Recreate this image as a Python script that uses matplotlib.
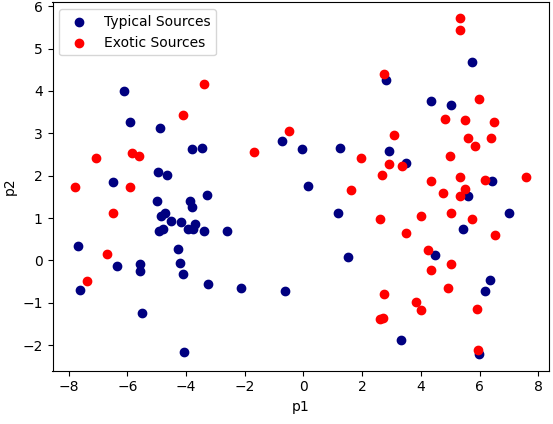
import matplotlib
matplotlib.use("Agg")
import matplotlib.pyplot as plt

typical_p1 = [-6.13, -5.90, -4.88, -3.79, -3.46, -6.48, -4.94, -4.64, -3.27, -0.73,
              -0.05, -4.98, -3.86, -3.79, -4.84, -4.72, -4.50, -4.16, -4.91, -4.79,
              -3.94, -3.68, -3.76, -3.39, -2.59, -7.68, -4.26, -6.35, -5.56, -5.56,
              -4.19, -4.09, -7.63, -3.25, -2.13, -0.62, -5.49, -4.06, 0.17, 5.75,
              2.83, 4.33, 5.04, 1.26, 2.93, 3.51, 6.44, 5.61, 1.17, 6.99,
              5.42, 1.53, 4.49, 6.36, 6.20, 3.31, 5.99]
typical_p2 = [4.00, 3.26, 3.13, 2.62, 2.65, 1.85, 2.08, 2.01, 1.55, 2.81,
              2.62, 1.40, 1.41, 1.26, 1.05, 1.12, 0.93, 0.90, 0.69, 0.74,
              0.74, 0.85, 0.75, 0.69, 0.69, 0.34, 0.27, -0.13, -0.08, -0.25,
              -0.06, -0.32, -0.70, -0.56, -0.65, -0.72, -1.23, -2.16, 1.76, 4.68,
              4.25, 3.76, 3.66, 2.65, 2.58, 2.30, 1.87, 1.53, 1.12, 1.12,
              0.74, 0.08, 0.12, -0.46, -0.72, -1.88, -2.20]

exotic_p1 = [-3.39, -4.09, -0.48, -7.06, -5.84, -5.59, -1.68, -7.77, -5.90, -6.48,
             -6.69, -7.37, 5.32, 5.35, 2.76, 5.99, 4.83, 5.52, 6.48, 5.61,
             5.86, 6.40, 3.10, 1.97, 5.01, 2.93, 3.35, 2.69, 4.33, 5.32,
             6.20, 7.57, 1.63, 4.74, 5.52, 5.32, 2.62, 3.99, 5.04, 5.76,
             3.48, 6.54, 4.23, 5.04, 4.36, 4.91, 2.73, 3.82, 4.02, 5.90,
             2.62, 2.72, 5.96]
exotic_p2 = [4.16, 3.43, 3.05, 2.41, 2.53, 2.46, 2.55, 1.73, 1.73, 1.12,
             0.15, -0.48, 5.72, 5.43, 4.40, 3.81, 3.34, 3.32, 3.26, 2.88,
             2.70, 2.89, 2.96, 2.41, 2.47, 2.27, 2.22, 2.02, 1.87, 1.96,
             1.89, 1.96, 1.66, 1.59, 1.68, 1.53, 0.97, 1.05, 1.12, 0.97,
             0.64, 0.60, 0.24, -0.09, -0.22, -0.65, -0.79, -0.98, -1.17, -1.14,
             -1.38, -1.35, -2.11]

fig = plt.figure(figsize=(5.53, 4.24), dpi=100)
ax = fig.add_axes([52.5 / 553, (424 - 370.7) / 424, 496 / 553, 368.4 / 424])
ax.scatter(typical_p1, typical_p2, color="navy", label="Typical Sources")
ax.scatter(exotic_p1, exotic_p2, color="red", label="Exotic Sources")
ax.set_xlim(-8.55, 8.35)
ax.set_ylim(-2.6, 6.09)
ax.set_xlabel("p1")
ax.set_ylabel("p2")
ax.legend(loc="upper left")
fig.savefig("out.png", dpi=100)
